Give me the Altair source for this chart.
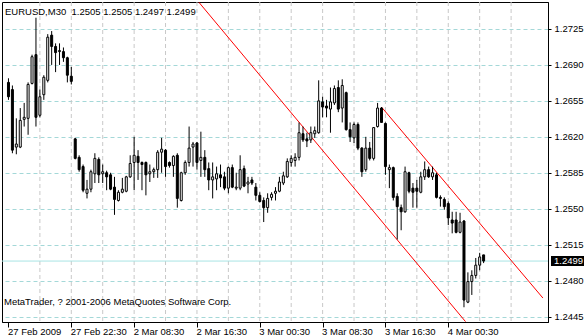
import json
import altair as alt
import pandas as pd

# ---- data (EURUSD, M30) ----
opens = [
    1.2673, 1.2666, 1.2610, 1.2610, 1.2637, 1.2638, 1.2672, 1.2700, 1.2641, 1.2661,
    1.2675, 1.2719, 1.2708, 1.2703, 1.2703, 1.2697, 1.2679, 1.2618, 1.2600, 1.2591,
    1.2565, 1.2569, 1.2584, 1.2598, 1.2584, 1.2585, 1.2583, 1.2571, 1.2558, 1.2566,
    1.2567, 1.2581, 1.2595, 1.2601, 1.2595, 1.2595, 1.2584, 1.2586, 1.2588, 1.2605,
    1.2607, 1.2595, 1.2592, 1.2602, 1.2558, 1.2585, 1.2595, 1.2610, 1.2614, 1.2597,
    1.2600, 1.2589, 1.2578, 1.2579, 1.2583, 1.2581, 1.2570, 1.2590, 1.2570, 1.2570,
    1.2589, 1.2574, 1.2578, 1.2571, 1.2563, 1.2558, 1.2551, 1.2561, 1.2565, 1.2567,
    1.2575, 1.2581, 1.2595, 1.2597, 1.2600, 1.2623, 1.2618, 1.2617, 1.2623, 1.2624,
    1.2654, 1.2650, 1.2647, 1.2653, 1.2668, 1.2648, 1.2663, 1.2627, 1.2619, 1.2632,
    1.2609, 1.2588, 1.2609, 1.2599, 1.2630, 1.2648, 1.2633, 1.2588, 1.2590, 1.2562,
    1.2551, 1.2547, 1.2585, 1.2570, 1.2570, 1.2566, 1.2581, 1.2588, 1.2581, 1.2583,
    1.2561, 1.2559, 1.2555, 1.2539, 1.2539, 1.2527, 1.2538, 1.2459, 1.2479, 1.2485,
    1.2495, 1.2505,
]
highs = [
    1.2677, 1.2670, 1.2638, 1.2648, 1.2653, 1.2673, 1.2700, 1.2736, 1.2666, 1.2680,
    1.2720, 1.2723, 1.2711, 1.2711, 1.2707, 1.2698, 1.2688, 1.2619, 1.2602, 1.2593,
    1.2578, 1.2588, 1.2604, 1.2600, 1.2593, 1.2587, 1.2585, 1.2581, 1.2568, 1.2580,
    1.2582, 1.2602, 1.2620, 1.2607, 1.2596, 1.2596, 1.2593, 1.2590, 1.2607, 1.2619,
    1.2608, 1.2596, 1.2602, 1.2604, 1.2586, 1.2597, 1.2630, 1.2615, 1.2615, 1.2625,
    1.2607, 1.2595, 1.2595, 1.2591, 1.2593, 1.2586, 1.2591, 1.2593, 1.2585, 1.2602,
    1.2592, 1.2581, 1.2581, 1.2575, 1.2566, 1.2561, 1.2565, 1.2566, 1.2571, 1.2581,
    1.2586, 1.2599, 1.2602, 1.2604, 1.2634, 1.2630, 1.2624, 1.2630, 1.2630, 1.2675,
    1.2659, 1.2656, 1.2668, 1.2670, 1.2675, 1.2676, 1.2664, 1.2634, 1.2634, 1.2634,
    1.2610, 1.2620, 1.2615, 1.2629, 1.2653, 1.2649, 1.2634, 1.2593, 1.2591, 1.2565,
    1.2554, 1.2591, 1.2586, 1.2575, 1.2578, 1.2586, 1.2596, 1.2591, 1.2591, 1.2585,
    1.2563, 1.2561, 1.2557, 1.2547, 1.2547, 1.2546, 1.2539, 1.2488, 1.2490, 1.2502,
    1.2507, 1.2505,
]
lows = [
    1.2656, 1.2604, 1.2603, 1.2609, 1.2630, 1.2622, 1.2671, 1.2630, 1.2639, 1.2656,
    1.2673, 1.2690, 1.2683, 1.2690, 1.2693, 1.2673, 1.2671, 1.2598, 1.2586, 1.2566,
    1.2560, 1.2566, 1.2575, 1.2575, 1.2575, 1.2568, 1.2568, 1.2544, 1.2557, 1.2565,
    1.2566, 1.2580, 1.2568, 1.2578, 1.2568, 1.2563, 1.2576, 1.2580, 1.2580, 1.2585,
    1.2581, 1.2590, 1.2581, 1.2551, 1.2557, 1.2583, 1.2591, 1.2591, 1.2588, 1.2581,
    1.2581, 1.2568, 1.2560, 1.2568, 1.2571, 1.2568, 1.2565, 1.2570, 1.2568, 1.2568,
    1.2571, 1.2565, 1.2573, 1.2558, 1.2556, 1.2537, 1.2546, 1.2558, 1.2558, 1.2566,
    1.2573, 1.2580, 1.2591, 1.2591, 1.2597, 1.2615, 1.2610, 1.2614, 1.2619, 1.2623,
    1.2639, 1.2639, 1.2624, 1.2651, 1.2644, 1.2634, 1.2626, 1.2615, 1.2614, 1.2607,
    1.2581, 1.2586, 1.2597, 1.2597, 1.2629, 1.2634, 1.2583, 1.2570, 1.2558, 1.2520,
    1.2529, 1.2546, 1.2565, 1.2551, 1.2551, 1.2565, 1.2578, 1.2580, 1.2578, 1.2560,
    1.2552, 1.2549, 1.2534, 1.2526, 1.2526, 1.2526, 1.2454, 1.2458, 1.2466, 1.2482,
    1.2490, 1.2497,
]
closes = [
    1.2659, 1.2607, 1.2613, 1.2636, 1.2639, 1.2671, 1.2698, 1.2639, 1.2659, 1.2678,
    1.2717, 1.2708, 1.2702, 1.2704, 1.2697, 1.2680, 1.2674, 1.2599, 1.2588, 1.2568,
    1.2569, 1.2586, 1.2599, 1.2583, 1.2586, 1.2581, 1.2569, 1.2559, 1.2566, 1.2569,
    1.2581, 1.2594, 1.2602, 1.2595, 1.2593, 1.2583, 1.2586, 1.2588, 1.2605, 1.2608,
    1.2591, 1.2592, 1.2601, 1.2560, 1.2585, 1.2595, 1.2609, 1.2613, 1.2595, 1.2600,
    1.2588, 1.2578, 1.2581, 1.2584, 1.2580, 1.2570, 1.2590, 1.2571, 1.2571, 1.2588,
    1.2572, 1.2576, 1.2575, 1.2563, 1.2557, 1.2551, 1.2560, 1.2564, 1.2567, 1.2576,
    1.2582, 1.2596, 1.2599, 1.2600, 1.2624, 1.2617, 1.2616, 1.2624, 1.2626, 1.2655,
    1.2649, 1.2648, 1.2654, 1.2667, 1.2647, 1.2670, 1.2627, 1.2620, 1.2632, 1.2609,
    1.2586, 1.2609, 1.2599, 1.2629, 1.2648, 1.2634, 1.2591, 1.2590, 1.2561, 1.2552,
    1.2547, 1.2586, 1.2567, 1.2566, 1.2567, 1.2581, 1.2588, 1.2581, 1.2585, 1.2561,
    1.2560, 1.2552, 1.2541, 1.2536, 1.2527, 1.2537, 1.2461, 1.2479, 1.2485, 1.2495,
    1.2503, 1.2499,
]
bar_index = list(range(len(opens)))

time_labels = ["27 Feb 2009", "27 Feb 22:30", "2 Mar 08:30", "2 Mar 16:30",
               "3 Mar 00:30", "3 Mar 08:30", "3 Mar 16:30", "4 Mar 00:30"]
label_bars = [0, 16, 32, 48, 64, 80, 96, 112]
grid_bars = [8, 16, 24, 32, 40, 48, 56, 64, 72, 80, 88, 96, 104, 112, 120, 128]
price_ticks = [1.2445, 1.2480, 1.2515, 1.2550, 1.2585, 1.2620, 1.2655, 1.2690, 1.2725]

channel_name = ["lower", "lower", "upper", "upper"]
channel_bar = [48.5, 116.4, 95.0, 136.1]
channel_price = [1.2751, 1.2440, 1.2649, 1.2463]

last_price = [1.2499]
header = "EURUSD,M30\u00a0 1.2505 1.2505 1.2497 1.2499"
footer = "MetaTrader, ? 2001-2006 MetaQuotes Software Corp."

# ---- build ----
FONT = "Liberation Sans"
FS = 9.5

df = pd.DataFrame({"i": bar_index, "open": opens, "high": highs,
                   "low": lows, "close": closes})
grid_df = pd.DataFrame({"i": grid_bars})
chan_df = pd.DataFrame({"line": channel_name, "i": channel_bar, "p": channel_price})
last_df = pd.DataFrame({"p": last_price})
header_df = pd.DataFrame({"t": [header]})
footer_df = pd.DataFrame({"t": [footer]})

xscale = alt.Scale(domain=[-0.375, 136.125], nice=False, zero=False)
yscale = alt.Scale(domain=[1.2439645, 1.2751295], nice=False, zero=False)

label_expr = "%s[indexof(%s, datum.value)]" % (json.dumps(time_labels), json.dumps(label_bars))

x_axis = alt.Axis(values=label_bars, labelExpr=label_expr, title=None, grid=False,
                  tickSize=5, tickColor="black", domainColor="black",
                  labelAlign="left", labelBaseline="top", labelPadding=-1,
                  labelFont=FONT, labelFontSize=FS, labelColor="black",
                  labelOffset=-1, labelOverlap=False, labelFlush=False)
y_axis = alt.Axis(orient="right", values=price_ticks, format=".4f", title=None,
                  grid=True, gridColor="#a4d8d8", gridDash=[4, 3], gridWidth=1,
                  tickSize=3, tickColor="black", domainColor="black",
                  labelFont=FONT, labelFontSize=FS, labelColor="black",
                  labelPadding=3, labelBaseline="middle", labelOverlap=False,
                  labelFlush=False)

X = alt.X("i:Q", scale=xscale, axis=x_axis)

vgrid = alt.Chart(grid_df).mark_rule(color="#c8c8c8", strokeDash=[4, 3], strokeWidth=1).encode(x=X)

price_line = alt.Chart(last_df).mark_rule(color="#a8e4e4", strokeWidth=1).encode(
    y=alt.Y("p:Q", scale=yscale, axis=y_axis))

wicks = alt.Chart(df).mark_rule(color="black", strokeWidth=1).encode(
    x=X, y=alt.Y("low:Q", scale=yscale, axis=y_axis), y2="high:Q")

bodies = alt.Chart(df).mark_bar(size=2, stroke="black", strokeWidth=1).encode(
    x=X, y=alt.Y("open:Q", scale=yscale, axis=y_axis), y2="close:Q",
    fill=alt.condition("datum.close >= datum.open", alt.value("white"), alt.value("black")))

channels = alt.Chart(chan_df).mark_line(color="#ff0000", strokeWidth=1, clip=True).encode(
    x=X, y=alt.Y("p:Q", scale=yscale, axis=y_axis), detail="line:N")

price_box = alt.Chart(last_df).mark_rect(color="black", yOffset=-5, y2Offset=5).encode(
    x=alt.value(549), x2=alt.value(583),
    y=alt.Y("p:Q", scale=yscale, axis=y_axis), y2="p:Q")

price_text = alt.Chart(last_df).mark_text(align="left", baseline="middle", color="white",
                                          font=FONT, fontSize=FS).encode(
    x=alt.value(552), y=alt.Y("p:Q", scale=yscale, axis=y_axis),
    text=alt.Text("p:Q", format=".4f"))

header_text = alt.Chart(header_df).mark_text(align="left", baseline="alphabetic",
                                             font=FONT, fontSize=FS, color="black").encode(
    x=alt.value(3), y=alt.value(13), text="t:N")

footer_text = alt.Chart(footer_df).mark_text(align="left", baseline="alphabetic",
                                             font=FONT, fontSize=FS, color="black").encode(
    x=alt.value(2), y=alt.value(303), text="t:N")

chart = alt.layer(
    vgrid, price_line, channels, wicks, bodies, price_box, price_text, header_text, footer_text
).properties(
    width=546, height=320,
    padding={"left": 2, "top": 2, "right": 36, "bottom": 14},
    autosize=alt.AutoSizeParams(type="none"),
    background="white",
).configure_view(stroke="black", strokeWidth=1)

chart.save("out.html", embed_options={"renderer": "svg", "actions": False})
